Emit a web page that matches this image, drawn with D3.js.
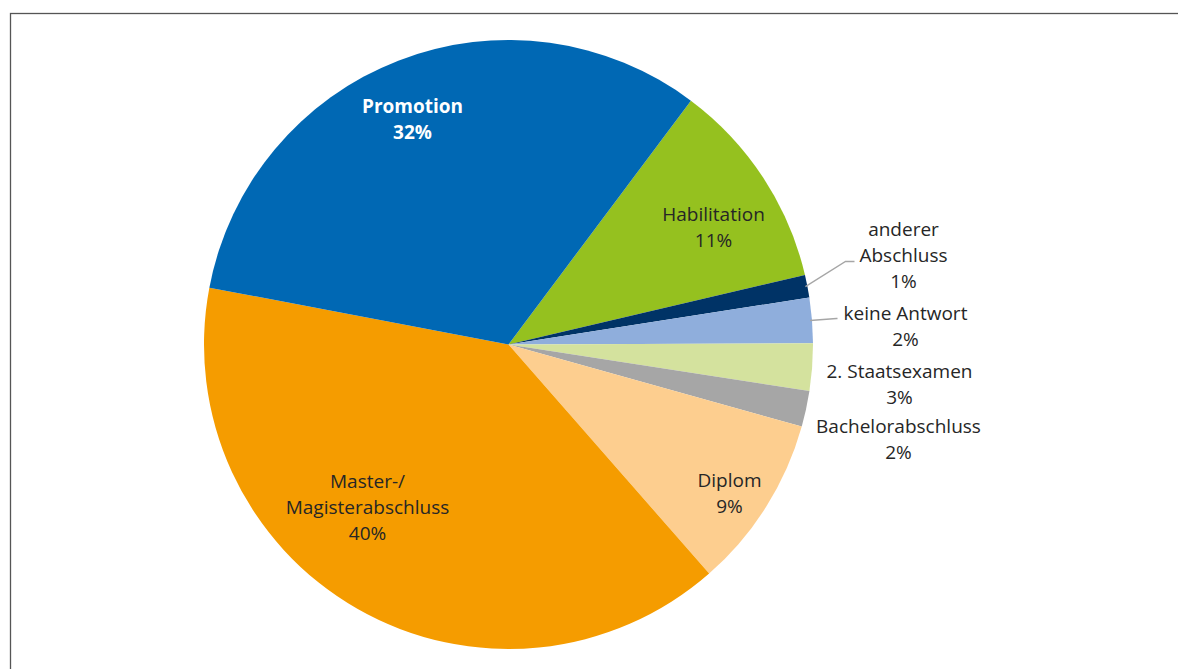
<!DOCTYPE html>
<html>
<head>
<meta charset="utf-8">
<script src="https://cdn.jsdelivr.net/npm/d3@7"></script>
<style>
  body { margin: 0; background: #fff; }
  text { font-family: "Open Sans", "Noto Sans", sans-serif; }
</style>
</head>
<body>
<script>
// slices, clockwise starting at Habilitation
var categories = ["Habilitation", "anderer Abschluss", "keine Antwort", "2. Staatsexamen",
  "Bachelorabschluss", "Diplom", "Master-/Magisterabschluss", "Promotion"];
// share of the circle as drawn in the picture
var shares = [11.1, 1.2, 2.4, 2.5, 1.9, 9.2, 39.4, 32.2];
// label texts as printed
var labelLines = [
  ["Habilitation", "11%"],
  ["anderer", "Abschluss", "1%"],
  ["keine Antwort", "2%"],
  ["2. Staatsexamen", "3%"],
  ["Bachelorabschluss", "2%"],
  ["Diplom", "9%"],
  ["Master-/", "Magisterabschluss", "40%"],
  ["Promotion", "32%"]
];
var colors = ["#95c11f", "#003366", "#8faedc", "#d4e29e", "#a6a6a6", "#fdce8f", "#f59c00", "#0068b4"];

var width = 1178, height = 669;
var cx = 508.5, cy = 344.5, radius = 304.5;
var lineH = 26.3;

// label block centres relative to the pie centre
var labelPos = [
  [205, -117], [395, -89], [397, -18], [391, 40],
  [390, 95], [221, 149], [-141, 163], [-96, -225]
];

var svg = d3.select("body").append("svg")
  .attr("width", width)
  .attr("height", height);

// frame
svg.append("rect")
  .attr("x", 10.5).attr("y", 13.5)
  .attr("width", 1300).attr("height", 800)
  .attr("fill", "none")
  .attr("stroke", "#555")
  .attr("stroke-width", 1.3);

var pie = d3.pie()
  .sort(null)
  .startAngle(36.8 * Math.PI / 180)
  .endAngle(36.8 * Math.PI / 180 + 2 * Math.PI);

var arc = d3.arc().innerRadius(0).outerRadius(radius);

var g = svg.append("g").attr("transform", "translate(" + cx + "," + cy + ")");

var arcs = pie(shares);

g.selectAll("path")
  .data(arcs)
  .enter()
  .append("path")
  .attr("d", arc)
  .attr("fill", function(d, i) { return colors[i]; });

// leader lines for the two small slices
var leaderArc = d3.arc().innerRadius(radius - 2).outerRadius(radius - 2);
function leader(i, elbow, end) {
  var p = leaderArc.centroid(arcs[i]);
  g.append("polyline")
    .attr("points", [p, elbow, end].map(function(q) { return q.join(","); }).join(" "))
    .attr("fill", "none")
    .attr("stroke", "#a6a6a6")
    .attr("stroke-width", 1.3);
}
leader(1, [337, -83], [346, -83]);
leader(2, [328, -26], [329, -26]);

// labels
labelLines.forEach(function(lines, i) {
  var n = lines.length;
  var t = g.append("text")
    .attr("text-anchor", "middle")
    .attr("font-size", 19)
    .attr("fill", i === 7 ? "#fff" : "#262626")
    .attr("font-weight", i === 7 ? "bold" : "normal");
  lines.forEach(function(s, k) {
    t.append("tspan")
      .attr("x", labelPos[i][0])
      .attr("y", labelPos[i][1] + (k - (n - 1) / 2) * lineH)
      .attr("dy", "0.35em")
      .text(s);
  });
});
</script>
</body>
</html>
